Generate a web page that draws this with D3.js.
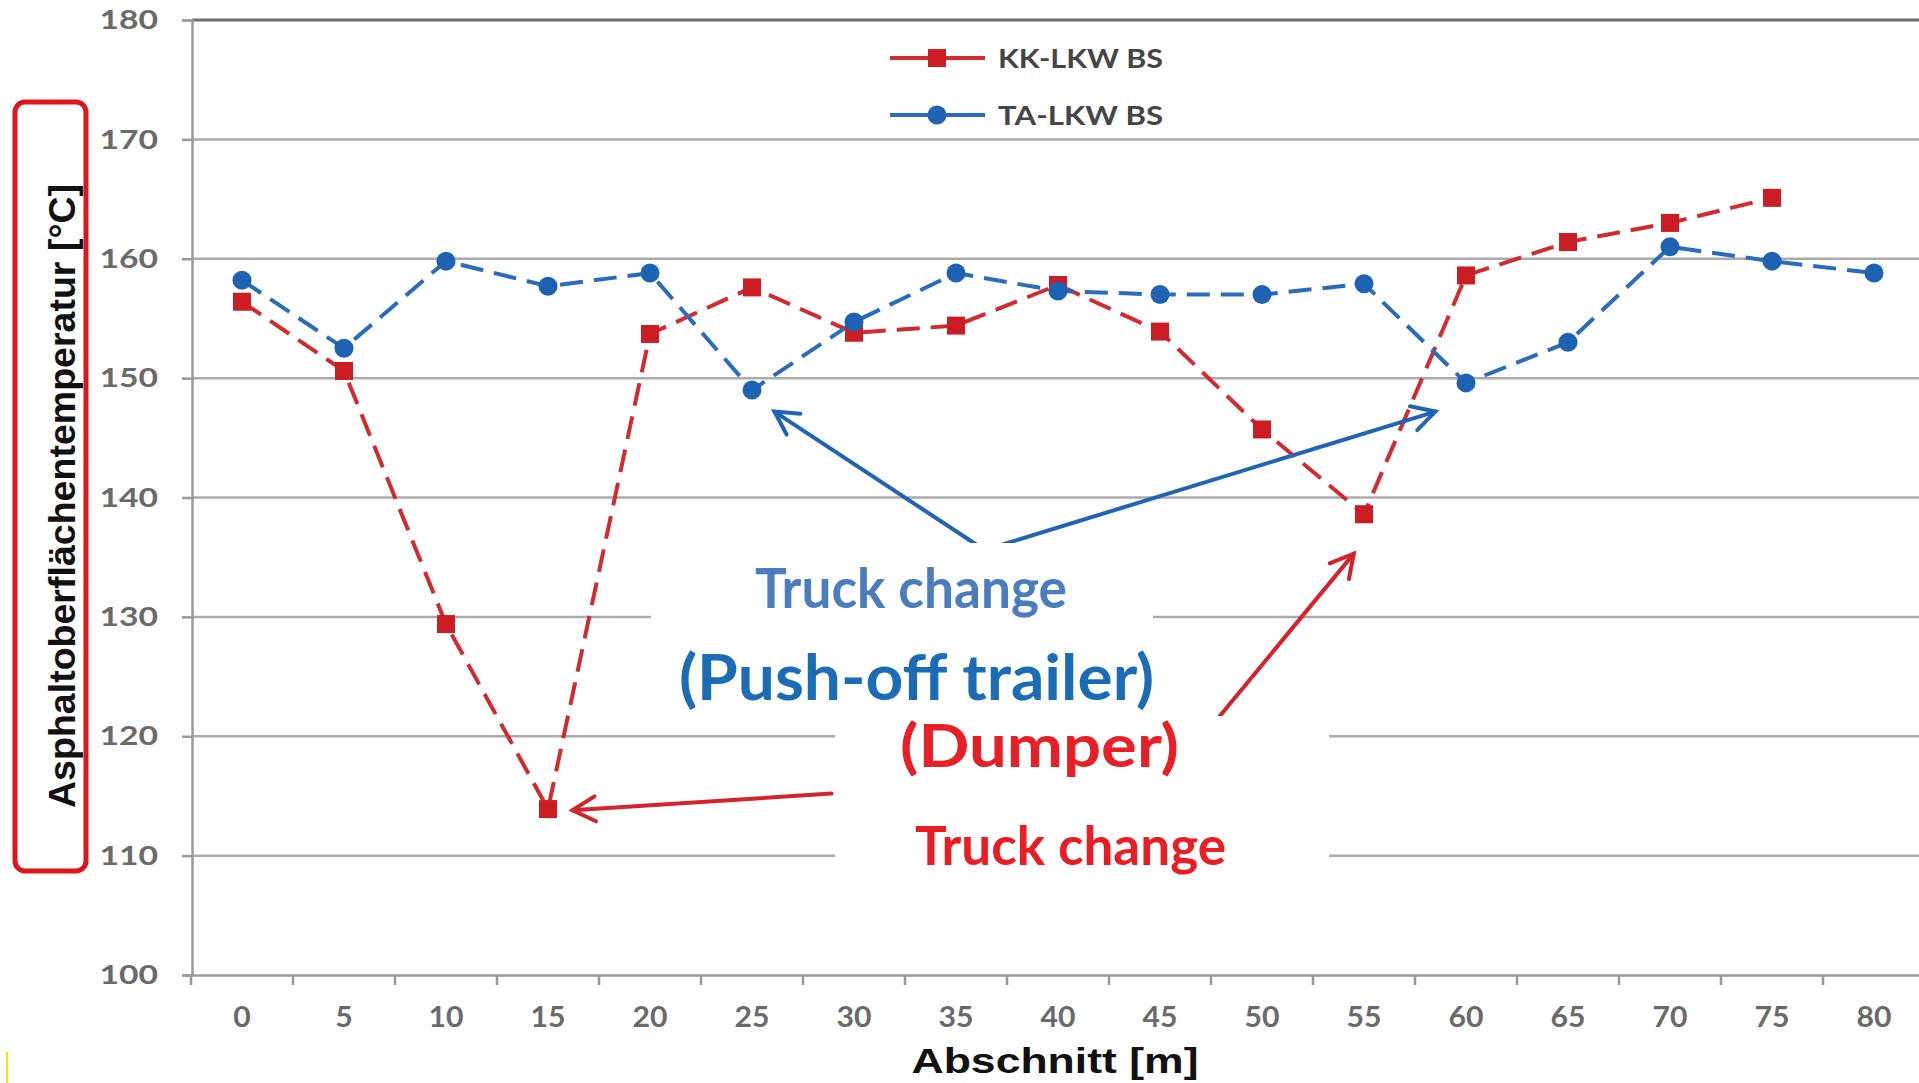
<!DOCTYPE html>
<html><head><meta charset="utf-8">
<script src="https://cdn.jsdelivr.net/npm/d3@7"></script>
<style>html,body{margin:0;padding:0;background:#fff;overflow:hidden}</style>
</head><body>
<script>
const categories = ['0','5','10','15','20','25','30','35','40','45','50','55','60','65','70','75','80'];
const kkValues = [156.4,150.6,129.4,113.9,153.7,157.6,153.8,154.4,157.8,153.9,145.7,138.6,158.6,161.4,163.0,165.1,null];
const taValues = [158.2,152.5,159.8,157.7,158.8,149.0,154.7,158.8,157.3,157.0,157.0,157.9,149.6,153.0,161.0,159.8,158.8];
const yTicks = [100,110,120,130,140,150,160,170,180];
const seriesNames = ['KK-LKW BS','TA-LKW BS'];
const yTitle = 'Asphaltoberflächentemperatur [°C]';
const xTitle = 'Abschnitt [m]';

const W = 1919, H = 1083;
const svg = d3.select('body').append('svg').attr('width', W).attr('height', H);
const x = d3.scaleBand().domain(categories).range([191, 1925]).paddingInner(0).paddingOuter(0);
const bw = x.bandwidth();
const cx = c => x(c) + bw / 2;
const xv = v => x(categories[0]) + (v / 5 + 0.5) * bw; // continuous position along the section axis
const y = d3.scaleLinear().domain([100, 180]).range([975, 20]);

const RED = '#d42a2f', REDM = '#cc1d25', BLUE = '#2a6cbc', BLUEM = '#1e62b4';

// gridlines
svg.append('g').selectAll('line').data(yTicks.filter(t => t > 100 && t < 180)).join('line')
  .attr('x1', 192).attr('x2', W).attr('y1', d => y(d)).attr('y2', d => y(d))
  .attr('stroke', '#ababab').attr('stroke-width', 2.5);
svg.append('line').attr('x1', 192).attr('x2', W).attr('y1', y(180)).attr('y2', y(180))
  .attr('stroke', '#6e6e6e').attr('stroke-width', 3);

// y axis
const yAx = svg.append('g').attr('transform', 'translate(192,0)')
  .call(d3.axisLeft(y).tickValues(yTicks).tickSize(10).tickPadding(24).tickFormat(d3.format('d')));
yAx.select('.domain').attr('stroke', '#9a9a9a').attr('stroke-width', 2.5);
yAx.selectAll('.tick line').attr('stroke', '#9a9a9a').attr('stroke-width', 2.5);
yAx.selectAll('.tick text').attr('fill', '#6a6a6a').style('font-family', 'Lato').style('font-size', '27px').style('font-weight', 700)
  .attr('textLength', function(){ return this.textContent.length * 19.5; }).attr('lengthAdjust', 'spacingAndGlyphs');

// x axis labels
const xAx = svg.append('g').attr('transform', `translate(0,${y(100)})`)
  .call(d3.axisBottom(x).tickSize(0).tickSizeOuter(0).tickPadding(31));
xAx.select('.domain').attr('stroke', '#9a9a9a').attr('stroke-width', 2.5);
xAx.selectAll('.tick text').attr('fill', '#6a6a6a').style('font-family', 'Lato').style('font-size', '29px').style('font-weight', 700)
  .attr('textLength', function(){ return this.textContent.length * 17.5; }).attr('lengthAdjust', 'spacingAndGlyphs');
// x tick marks between categories
svg.append('g').selectAll('line').data(categories).join('line')
  .attr('x1', d => x(d)).attr('x2', d => x(d)).attr('y1', y(100)).attr('y2', y(100) + 10)
  .attr('stroke', '#9a9a9a').attr('stroke-width', 2.5);

// series
const line = d3.line().defined(d => d.v != null).x(d => cx(d.c)).y(d => y(d.v));
const kk = categories.map((c, i) => ({c, v: kkValues[i]}));
const ta = categories.map((c, i) => ({c, v: taValues[i]}));
svg.append('path').datum(kk).attr('d', line).attr('fill', 'none').attr('stroke', RED)
  .attr('stroke-width', 4).attr('stroke-dasharray', '23,11');
svg.append('path').datum(ta).attr('d', line).attr('fill', 'none').attr('stroke', BLUE)
  .attr('stroke-width', 4).attr('stroke-dasharray', '23,11');
svg.append('g').selectAll('rect').data(kk.filter(d => d.v != null)).join('rect')
  .attr('x', d => cx(d.c) - 9).attr('y', d => y(d.v) - 9).attr('width', 18).attr('height', 18).attr('fill', REDM);
svg.append('g').selectAll('circle').data(ta).join('circle')
  .attr('cx', d => cx(d.c)).attr('cy', d => y(d.v)).attr('r', 9.5).attr('fill', BLUEM);

// legend
const leg = svg.append('g');
[[REDM, 58], [BLUEM, 115]].forEach(([col, ly], i) => {
  leg.append('line').attr('x1', 890).attr('x2', 985).attr('y1', ly).attr('y2', ly).attr('stroke', i ? BLUE : RED).attr('stroke-width', 4);
  if (i === 0) leg.append('rect').attr('x', 937 - 9).attr('y', ly - 9).attr('width', 18).attr('height', 18).attr('fill', col);
  else leg.append('circle').attr('cx', 937).attr('cy', ly).attr('r', 9.5).attr('fill', col);
  leg.append('text').attr('x', 998).attr('y', ly + 10).text(seriesNames[i]).attr('fill', '#454545')
    .style('font-family', 'Lato').style('font-size', '27px').style('font-weight', 700)
    .attr('textLength', 165).attr('lengthAdjust', 'spacingAndGlyphs');
});

// axis titles
svg.append('text').attr('transform', 'translate(75,496) rotate(-90)').attr('text-anchor', 'middle')
  .text(yTitle).attr('fill', '#111').style('font-family', 'Liberation Sans, Arial').style('font-size', '36px').style('font-weight', 700)
  .attr('textLength', 624).attr('lengthAdjust', 'spacingAndGlyphs');
svg.append('text').attr('x', 1055).attr('y', 1073).attr('text-anchor', 'middle')
  .text(xTitle).attr('fill', '#111').style('font-family', 'Liberation Sans, Arial').style('font-size', '35px').style('font-weight', 700)
  .attr('textLength', 287).attr('lengthAdjust', 'spacingAndGlyphs');

// red frame around y title
svg.append('rect').attr('x', 15).attr('y', 102).attr('width', 71).attr('height', 769).attr('rx', 10)
  .attr('fill', 'none').attr('stroke', '#e0141c').attr('stroke-width', 5);

// arrows
function arrow(x0, y0, x1, y1, col) {
  const a = Math.atan2(y1 - y0, x1 - x0), L = 26, h = 0.5;
  const g = svg.append('g').attr('stroke', col).attr('stroke-width', 4).attr('fill', 'none').attr('stroke-linecap', 'round');
  g.append('line').attr('x1', x0).attr('y1', y0).attr('x2', x1).attr('y2', y1);
  g.append('path').attr('d', `M${x1 - L * Math.cos(a - h)},${y1 - L * Math.sin(a - h)} L${x1},${y1} L${x1 - L * Math.cos(a + h)},${y1 - L * Math.sin(a + h)}`);
}
arrow(xv(36.4), y(135.6), xv(26.1), y(147.2), '#2064b8');
arrow(xv(36.4), y(135.6), xv(58.5), y(147.2), '#2064b8');
arrow(xv(28.9), y(115.2), xv(16.2), y(113.8), '#d4232b');
arrow(xv(47.6), y(121.0), xv(54.5), y(135.3), '#d4232b');

// white label boxes
svg.append('rect').attr('x', 651).attr('y', 543).attr('width', 502).attr('height', 182).attr('fill', '#fff');
svg.append('rect').attr('x', 835).attr('y', 716).attr('width', 494).attr('height', 244).attr('fill', '#fff');

// annotation texts
const ann = [
  {t: 'Truck change', x: 755, y: 608, w: 312, fs: 55, col: '#4a7dbf'},
  {t: '(Push-off trailer)', x: 679, y: 700, w: 475, fs: 64, col: '#1b6cb6'},
  {t: '(Dumper)', x: 900, y: 767, w: 279, fs: 60, col: '#e81f27'},
  {t: 'Truck change', x: 915, y: 865, w: 311, fs: 54, col: '#ec1c24'}
];
svg.append('g').selectAll('text').data(ann).join('text')
  .attr('x', d => d.x).attr('y', d => d.y).text(d => d.t).attr('fill', d => d.col)
  .style('font-family', 'Lato').style('font-weight', 700).style('font-size', d => d.fs + 'px')
  .attr('textLength', d => d.w).attr('lengthAdjust', 'spacingAndGlyphs');

// faint yellow mark at bottom-left
svg.append('line').attr('x1', 7).attr('x2', 7).attr('y1', 1052).attr('y2', H).attr('stroke', '#f2e600').attr('stroke-width', 2);
</script>
</body></html>
